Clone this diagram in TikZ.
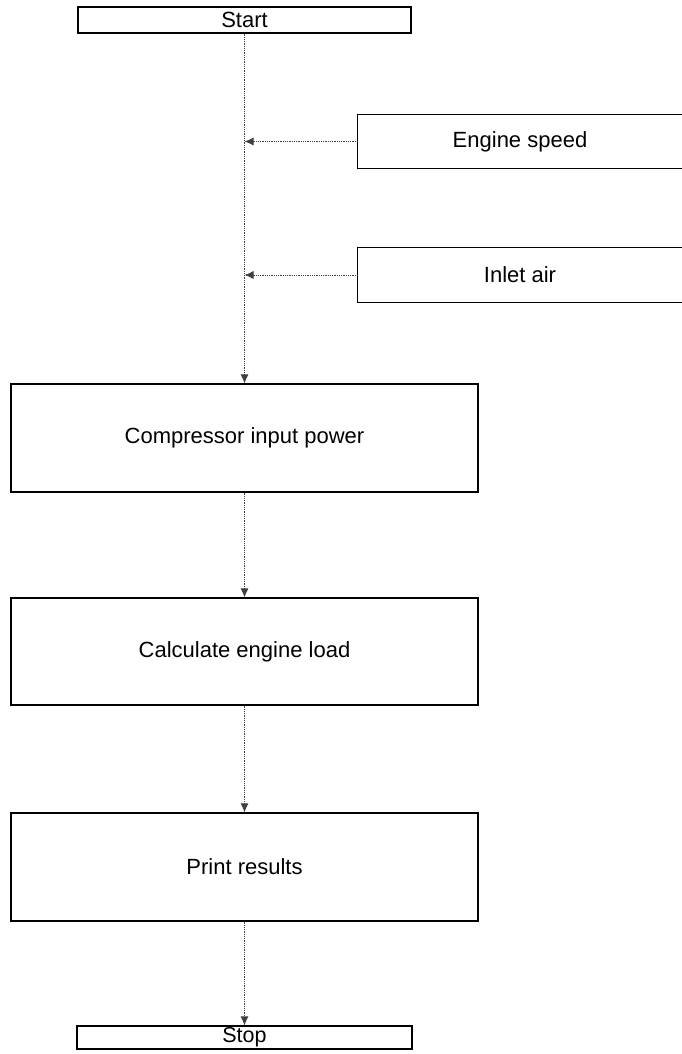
\documentclass[tikz,border=0pt]{standalone}
\usepackage{fontspec}
\setmainfont{Liberation Sans}
\usetikzlibrary{arrows.meta}
\begin{document}
\begin{tikzpicture}[x=1pt,y=-1pt,
  box/.style={draw=black, line width=1.2pt, inner sep=0pt, font=\fontsize{22}{26}\selectfont},
  openbox/.style={inner sep=0pt, font=\fontsize{22}{26}\selectfont},
  edge/.style={line width=1.2pt, draw=black},
  flow/.style={densely dotted, line width=0.8pt, draw=black!75, -{Latex[length=9pt,width=8pt]}}]
\useasboundingbox (0,0) rectangle (682,1054);

% main column
\node[box, minimum width=333pt, minimum height=26pt] (start) at (244.5,20) {Start};
\node[box, minimum width=467pt, minimum height=108pt] (comp) at (244.5,438) {Compressor input power};
\node[box, minimum width=467pt, minimum height=107pt] (load) at (244.5,651.5) {Calculate engine load};
\node[box, minimum width=467pt, minimum height=108pt] (print) at (244.5,867) {Print results};
\node[box, minimum width=335pt, minimum height=23pt, inner ysep=0.5pt,
      font=\fontsize{21.5}{25}\selectfont] (stop) at (244.5,1037.5) {Stop};

% input boxes, open on the right
\node[openbox, minimum width=324pt, minimum height=53pt] (speed) at (520,141.5) {Engine speed};
\node[openbox, minimum width=324pt, minimum height=54pt] (air) at (520,275) {Inlet air};
\draw[edge] (speed.north east) -- (speed.north west) -- (speed.south west) -- (speed.south east);
\draw[edge] (air.north east) -- (air.north west) -- (air.south west) -- (air.south east);

% connectors
\draw[flow] (start.south) -- (comp.north);
\draw[flow] (speed.west) -- (speed.west -| start.south);
\draw[flow] (air.west) -- (air.west -| start.south);
\draw[flow] (comp.south) -- (load.north);
\draw[flow] (load.south) -- (print.north);
\draw[flow] (print.south) -- (stop.north);
\end{tikzpicture}
\end{document}
